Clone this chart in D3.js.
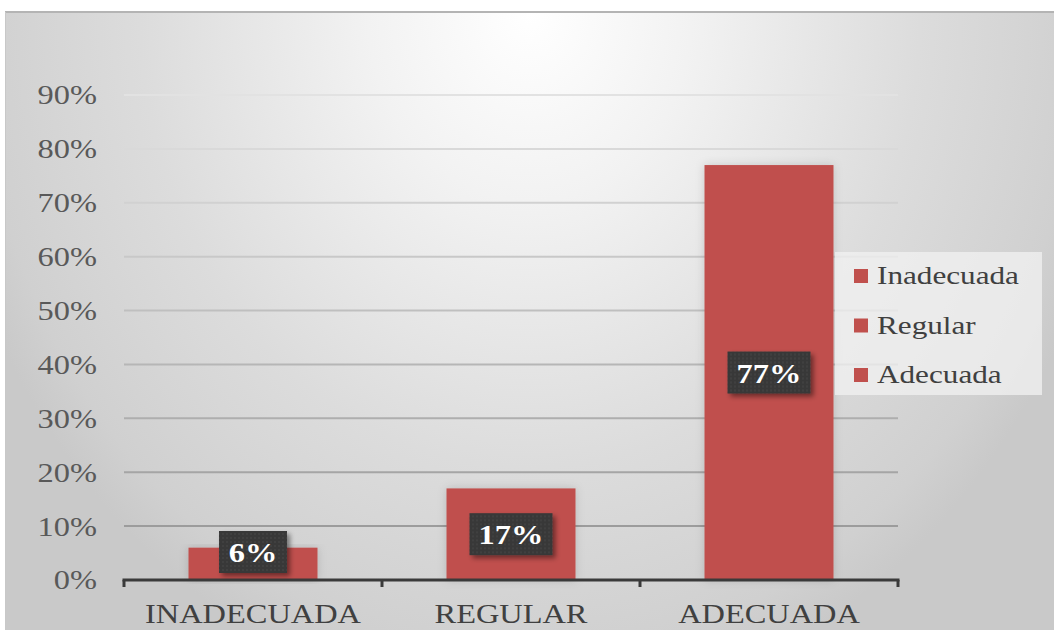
<!DOCTYPE html>
<html><head><meta charset="utf-8">
<script src="https://cdn.jsdelivr.net/npm/d3@7"></script>
<style>html,body{margin:0;padding:0;background:#fff;}svg{display:block;}</style>
</head><body>
<script>
const categories = ["INADECUADA", "REGULAR", "ADECUADA"];
const values = [0.06, 0.17, 0.77];
const legendLabels = ["Inadecuada", "Regular", "Adecuada"];
const yTicks = [0, 0.1, 0.2, 0.3, 0.4, 0.5, 0.6, 0.7, 0.8, 0.9];

const W = 1054, H = 630;
const SX = 1.2; // horizontal text stretch seen in the reference
const svg = d3.select("body").append("svg").attr("width", W).attr("height", H);
const defs = svg.append("defs");

const rg = defs.append("radialGradient").attr("id", "bg")
  .attr("gradientUnits", "userSpaceOnUse").attr("cx", 530).attr("cy", 12).attr("r", 700)
  .attr("gradientTransform", "translate(530,12) scale(0.857,1) translate(-530,-12)");
[[0, "#ffffff"], [0.27, "#f2f2f2"], [0.65, "#dcdcdc"], [0.92, "#d0d0d0"], [1, "#c9c9c9"]]
  .forEach(s => rg.append("stop").attr("offset", s[0]).attr("stop-color", s[1]));

const pat = defs.append("pattern").attr("id", "dots").attr("width", 4).attr("height", 4).attr("patternUnits", "userSpaceOnUse");
pat.append("rect").attr("width", 4).attr("height", 4).attr("fill", "#383838");
pat.append("circle").attr("cx", 2).attr("cy", 2).attr("r", 0.8).attr("fill", "#4a4a4a");

const sh = defs.append("filter").attr("id", "shadow").attr("x", "-20%").attr("y", "-20%").attr("width", "150%").attr("height", "160%");
sh.append("feDropShadow").attr("dx", 3).attr("dy", 3).attr("stdDeviation", 2.5).attr("flood-color", "#000").attr("flood-opacity", 0.45);
const bsh = defs.append("filter").attr("id", "barshadow").attr("x", "-20%").attr("y", "-10%").attr("width", "140%").attr("height", "120%");
bsh.append("feDropShadow").attr("dx", 0).attr("dy", 0).attr("stdDeviation", 5).attr("flood-color", "#000").attr("flood-opacity", 0.15);

// chart frame
svg.append("rect").attr("x", 5).attr("y", 12).attr("width", W - 5).attr("height", H - 12).attr("fill", "url(#bg)");
svg.append("line").attr("x1", 5).attr("x2", W).attr("y1", 12).attr("y2", 12).attr("stroke", "#b4b4b4").attr("stroke-width", 2);
svg.append("line").attr("x1", 5.5).attr("x2", 5.5).attr("y1", 12).attr("y2", H).attr("stroke", "#c8c8c8").attr("stroke-width", 1);

const x = d3.scaleBand().domain(categories).range([124, 898]).paddingInner(0.5).paddingOuter(0.25);
const y = d3.scaleLinear().domain([0, 0.9]).range([580, 95]);
const gridColor = d3.scaleLinear().domain([0.9, 0.1]).range(["#e2e2e2", "#9c9c9c"]);

// gridlines
svg.append("g").selectAll("line").data(yTicks.filter(d => d > 0)).join("line")
  .attr("x1", x.range()[0]).attr("x2", x.range()[1])
  .attr("y1", d => y(d)).attr("y2", d => y(d))
  .attr("stroke", d => gridColor(d)).attr("stroke-width", 2);

// y labels
const fmt = d3.format(".0%");
svg.append("g").selectAll("text").data(yTicks).join("text")
  .attr("transform", d => `translate(97,${y(d)}) scale(${SX},1)`)
  .attr("dy", "0.35em").attr("text-anchor", "end")
  .attr("font-family", "'Liberation Serif', 'Times New Roman', serif").attr("font-size", 27)
  .attr("fill", "#595959").text(d => fmt(d));

// bars
svg.append("g").selectAll("rect").data(values).join("rect")
  .attr("x", (d, i) => x(categories[i])).attr("width", x.bandwidth())
  .attr("y", d => y(d)).attr("height", d => y(0) - y(d))
  .attr("fill", "#C0504D").attr("filter", "url(#barshadow)");

// axis
const step = x.step();
const x0 = x.range()[0];
const ax = svg.append("g");
ax.append("line").attr("x1", x0 - 1.5).attr("x2", x.range()[1] + 1.5).attr("y1", y(0)).attr("y2", y(0))
  .attr("stroke", "#3a3a3a").attr("stroke-width", 3);
ax.selectAll("line.tick").data(d3.range(categories.length + 1)).join("line").attr("class", "tick")
  .attr("x1", i => x0 + i * step).attr("x2", i => x0 + i * step)
  .attr("y1", y(0)).attr("y2", y(0) + 7).attr("stroke", "#3a3a3a").attr("stroke-width", 3);
ax.selectAll("text").data(categories).join("text")
  .attr("transform", d => `translate(${x(d) + x.bandwidth() / 2},623) scale(${SX},1)`)
  .attr("text-anchor", "middle")
  .attr("font-family", "'Liberation Serif', 'Times New Roman', serif").attr("font-size", 27)
  .attr("fill", "#404040").text(d => d);

// data labels
const lbl = svg.append("g").selectAll("g").data(values).join("g")
  .attr("transform", (d, i) => {
    const cx = x(categories[i]) + x.bandwidth() / 2;
    const cy = Math.min((y(d) + y(0)) / 2, y(0) - 28);
    return `translate(${cx},${cy})`;
  });
const halfW = d => fmt(d).length * 7.5 + 19;
lbl.append("rect")
  .attr("x", d => -halfW(d)).attr("width", d => 2 * halfW(d))
  .attr("y", -21).attr("height", 42)
  .attr("fill", "url(#dots)").attr("filter", "url(#shadow)");
lbl.append("text")
  .attr("transform", `translate(0,10) scale(${SX},1)`)
  .attr("text-anchor", "middle")
  .attr("font-family", "'Liberation Serif', 'Times New Roman', serif").attr("font-size", 27).attr("font-weight", "bold")
  .attr("fill", "#ffffff").text(d => fmt(d));

// legend
const lg = svg.append("g");
lg.append("rect").attr("x", 835).attr("y", 252).attr("width", 207).attr("height", 143)
  .attr("fill", "#f2f2f2").attr("fill-opacity", 0.75);
const li = lg.selectAll("g").data(legendLabels).join("g")
  .attr("transform", (d, i) => `translate(854,${276 + i * 49.5})`);
li.append("rect").attr("x", 0).attr("y", -7).attr("width", 14).attr("height", 14).attr("fill", "#C0504D");
li.append("text").attr("transform", `translate(23,8) scale(${SX},1)`)
  .attr("font-family", "'Liberation Serif', 'Times New Roman', serif").attr("font-size", 26)
  .attr("fill", "#404040").text(d => d);
</script>
</body></html>
